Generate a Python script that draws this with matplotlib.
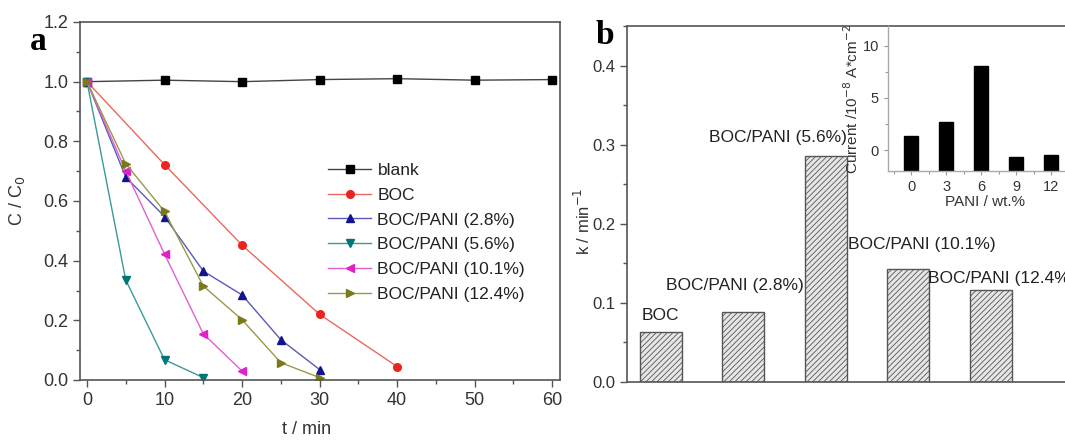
import matplotlib
matplotlib.use("Agg")
import matplotlib.pyplot as plt
import numpy as np
from matplotlib.ticker import MultipleLocator

plt.rcParams['font.family'] = ['Liberation Sans', 'DejaVu Sans']
plt.rcParams['hatch.linewidth'] = 0.6
plt.rcParams['hatch.color'] = '#555555'

# ---- data: panel a ----
t_blank = [0, 10, 20, 30, 40, 50, 60]
c_blank = [1.0, 1.005, 1.0, 1.007, 1.01, 1.005, 1.007]
t_boc = [0, 10, 20, 30, 40]
c_boc = [1.0, 0.722, 0.452, 0.22, 0.045]
t_p28 = [0, 5, 10, 15, 20, 25, 30]
c_p28 = [1.0, 0.68, 0.548, 0.365, 0.285, 0.135, 0.035]
t_p56 = [0, 5, 10, 15]
c_p56 = [1.0, 0.335, 0.068, 0.008]
t_p101 = [0, 5, 10, 15, 20]
c_p101 = [1.0, 0.70, 0.422, 0.155, 0.03]
t_p124 = [0, 5, 10, 15, 20, 25, 30]
c_p124 = [1.0, 0.725, 0.565, 0.315, 0.202, 0.058, 0.008]

series_labels = ['blank', 'BOC', 'BOC/PANI (2.8%)', 'BOC/PANI (5.6%)',
                 'BOC/PANI (10.1%)', 'BOC/PANI (12.4%)']

# ---- data: panel b ----
bar_labels = ['BOC', 'BOC/PANI (2.8%)', 'BOC/PANI (5.6%)',
              'BOC/PANI (10.1%)', 'BOC/PANI (12.4%)']
k_values = [0.063, 0.088, 0.286, 0.143, 0.116]

# ---- data: inset ----
pani_wt = [0, 3, 6, 9, 12]
current = [1.35, 2.7, 8.1, -0.65, -0.42]

fig = plt.figure(figsize=(10.65, 4.42), dpi=100)
W, H = 1065, 442

def rect(l, t, r, b):
    return [l / W, 1 - b / H, (r - l) / W, (b - t) / H]

spine_c = '#555555'
tick_c = '#333333'

# ---------------- panel a ----------------
ax = fig.add_axes(rect(80, 22, 560, 380))
styles = [
    (t_blank, c_blank, 's', '#000000', '#444444'),
    (t_boc, c_boc, 'o', '#e8251f', '#e86a5a'),
    (t_p28, c_p28, '^', '#14148c', '#5a5ab8'),
    (t_p56, c_p56, 'v', '#007575', '#3a9a9a'),
    (t_p101, c_p101, '<', '#e020c8', '#e060d0'),
    (t_p124, c_p124, '>', '#7a7a1a', '#9a9a4a'),
]
for (tx, cy, m, mc, lc), lab in zip(styles, series_labels):
    ax.plot(tx, cy, color=lc, lw=1.0, marker=m, markersize=5.5,
            markerfacecolor=mc, markeredgecolor=mc, label=lab)

ax.set_xlim(-0.9, 61)
ax.set_ylim(0, 1.2)
ax.xaxis.set_major_locator(MultipleLocator(10))
ax.xaxis.set_minor_locator(MultipleLocator(5))
ax.yaxis.set_major_locator(MultipleLocator(0.2))
ax.yaxis.set_minor_locator(MultipleLocator(0.1))
ax.yaxis.set_major_formatter(matplotlib.ticker.FormatStrFormatter('%.1f'))
ax.tick_params(which='both', direction='out', colors=spine_c, labelcolor=tick_c,
               labelsize=13, top=False, right=False)
ax.tick_params(which='major', length=5, width=1)
ax.tick_params(which='minor', length=3, width=1)
for s in ax.spines.values():
    s.set_color(spine_c)
    s.set_linewidth(1.2)
ax.set_xlabel('t / min', fontsize=13, color=tick_c)
ax.set_ylabel('C / C$_0$', fontsize=13, color=tick_c)
ax.xaxis.set_label_coords((307 - 80) / 480, (380 - 421) / 358)
ax.yaxis.set_label_coords((27 - 80) / 480, 0.5)
leg = ax.legend(loc='upper left', bbox_to_anchor=((328 - 80) / 480, (380 - 163) / 358),
                frameon=False, fontsize=12.5, handlelength=2.5, handletextpad=0.35,
                labelspacing=0.55, borderpad=0, borderaxespad=0)
for txt in leg.get_texts():
    txt.set_color('#222222')
fig.text(38 / W, 1 - 42 / H, 'a', fontsize=24, fontweight='bold',
         family='Liberation Serif', ha='center', va='center')

# ---------------- panel b ----------------
bx = fig.add_axes(rect(627, 26, 1065, 382))
xpos = np.arange(1, len(k_values) + 1)
bx.bar(xpos, k_values, width=0.51, color='#e6e6e6', edgecolor='#555555',
       hatch='//////', linewidth=1.0)
bx.set_xlim(0.59, 5.9)
bx.set_ylim(0, 0.45)
bx.set_xticks([])
bx.yaxis.set_major_locator(MultipleLocator(0.1))
bx.yaxis.set_minor_locator(MultipleLocator(0.05))
bx.yaxis.set_major_formatter(matplotlib.ticker.FormatStrFormatter('%.1f'))
bx.tick_params(which='both', direction='out', colors=spine_c, labelcolor=tick_c,
               labelsize=12)
bx.tick_params(which='major', length=5, width=1)
bx.tick_params(which='minor', length=3, width=1)
for s in bx.spines.values():
    s.set_color(spine_c)
    s.set_linewidth(1.2)
bx.spines['right'].set_visible(False)
bx.set_ylabel('k / min$^{-1}$', fontsize=12, color=tick_c)
bx.yaxis.set_label_coords((593 - 627) / 438, 0.45)

# label offsets (pixels) relative to bar top centre
offsets = [(0, 17, 'center'), (-8, 27, 'center'), (-48, 18, 'center'),
           (14, 24, 'center'), (-63, 12, 'left')]
for x, v, lab, (dx, dy, ha) in zip(xpos, k_values, bar_labels, offsets):
    bx.annotate(lab, (x, v), xytext=(dx, dy), textcoords='offset pixels',
                ha=ha, va='center', fontsize=12.5, color='#222222',
                annotation_clip=False)
fig.text(605 / W, 1 - 36 / H, 'b', fontsize=24, fontweight='bold',
         family='Liberation Serif', ha='center', va='center')

# ---------------- inset ----------------
ix = fig.add_axes(rect(888, 26, 1065, 171))
ix.patch.set_alpha(0)
base = -2.0
ix.bar(pani_wt, np.array(current) - base, bottom=base, width=1.2,
       color='black', edgecolor='black')
ix.set_xlim(-2.0, 13.2)
ix.set_ylim(-2, 11.9)
ix.xaxis.set_major_locator(MultipleLocator(3))
ix.xaxis.set_minor_locator(MultipleLocator(1.5))
ix.yaxis.set_major_locator(MultipleLocator(5))
ix.yaxis.set_minor_locator(MultipleLocator(2.5))
ix.tick_params(which='both', direction='out', colors='#999999', labelcolor=tick_c,
               labelsize=10.5)
ix.tick_params(which='major', length=3, width=0.8)
ix.tick_params(which='minor', length=2, width=0.8)
for s in ['top', 'right']:
    ix.spines[s].set_visible(False)
for s in ['left', 'bottom']:
    ix.spines[s].set_color('#aaaaaa')
    ix.spines[s].set_linewidth(1.0)
ix.set_xlabel('PANI / wt.%', fontsize=11, color=tick_c)
ix.set_ylabel('Current /10$^{-8}$ A*cm$^{-2}$', fontsize=11, color=tick_c)
ix.xaxis.set_label_coords((985 - 888) / 177, (171 - 195) / 145)
ix.yaxis.set_label_coords((861 - 888) / 177, 0.5)

fig.savefig('out.png', dpi=100)
